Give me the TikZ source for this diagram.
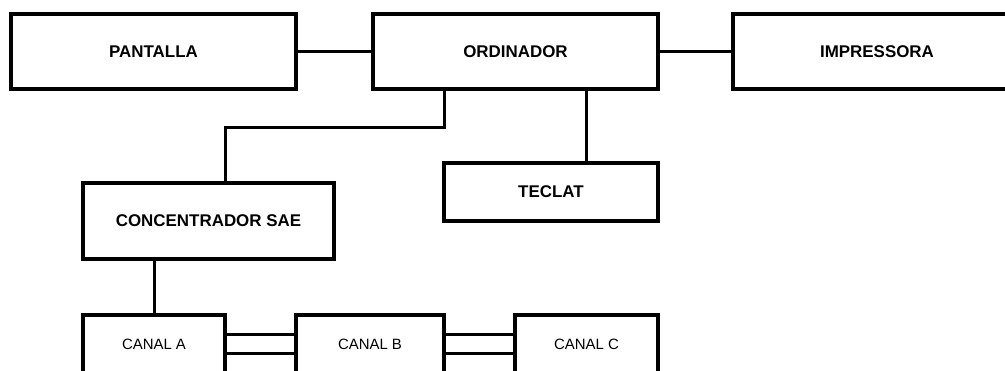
\documentclass[tikz,border=0pt]{standalone}
\usepackage{fontspec}
\setmainfont{Liberation Sans}
\begin{document}
\begin{tikzpicture}[x=1bp,y=-1bp,
  box/.style={draw=black, line width=3.5bp, inner sep=0pt, outer sep=0pt, fill=white,
    font=\fontsize{17}{17}\selectfont\bfseries},
  canal/.style={draw=black, line width=3.3bp, inner sep=0pt, outer sep=0pt, fill=white,
    font=\fontsize{15}{15}\selectfont},
  wire/.style={draw=black, line width=3bp}]
\useasboundingbox (0,0) rectangle (1005,370);
\clip (0,0) rectangle (1005,370);
% top row
\node[box, minimum width=285bp, minimum height=75bp] (pant) at (153.5,51.5) {PANTALLA};
\node[box, minimum width=285bp, minimum height=75bp] (ord) at (515.5,51.5) {ORDINADOR};
\node[box, minimum width=288bp, minimum height=75bp] (imp) at (877,51.5) {IMPRESSORA};
% middle
\node[box, minimum width=214bp, minimum height=58bp] (tec) at (551,192) {TECLAT};
\node[box, minimum width=251bp, minimum height=76bp] (conc) at (208.5,221) {CONCENTRADOR SAE};
% channels
\node[canal, minimum width=142bp, minimum height=58bp] (ca) at (154,344) {CANAL A};
\node[canal, minimum width=148bp, minimum height=58bp] (cb) at (370,344) {CANAL B};
\node[canal, minimum width=143bp, minimum height=58bp] (cc) at (586.5,344) {CANAL C};
% junction points
\coordinate (j1) at (444,127);
\coordinate (j2) at (225,127);
% connectors
\draw[wire] (pant.east) -- (ord.west);
\draw[wire] (ord.east) -- (imp.west);
\draw[wire] (ord.south -| j1) -- (j1) -- (j2) -- (conc.north -| j2);
\draw[wire] (ord.south -| tec.north east) ++(-72,0) coordinate (t1) -- (t1 |- tec.north);
\draw[wire] (conc.south -| ca.north) -- (ca.north);
\draw[wire] ([yshift=-9.5bp]ca.east) -- ([yshift=-9.5bp]cb.west);
\draw[wire] ([yshift=9.5bp]ca.east) -- ([yshift=9.5bp]cb.west);
\draw[wire] ([yshift=-9.5bp]cb.east) -- ([yshift=-9.5bp]cc.west);
\draw[wire] ([yshift=9.5bp]cb.east) -- ([yshift=9.5bp]cc.west);
\end{tikzpicture}
\end{document}
